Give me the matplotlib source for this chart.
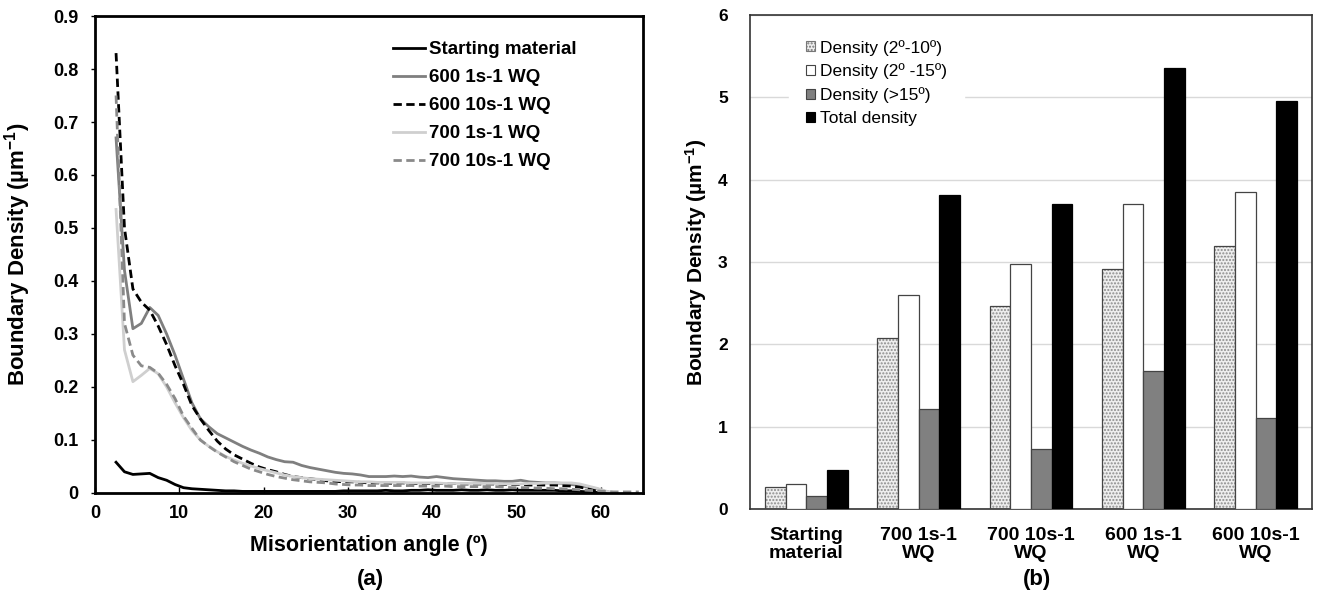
import numpy as np
import matplotlib
matplotlib.use("Agg")
import matplotlib.pyplot as plt
import matplotlib.patches as mpatches

plt.rcParams['font.family'] = ['Liberation Sans', 'DejaVu Sans']
plt.rcParams['mathtext.fontset'] = 'custom'
plt.rcParams['mathtext.rm'] = 'Liberation Sans'
plt.rcParams['mathtext.bf'] = 'Liberation Sans:bold'
plt.rcParams['mathtext.it'] = 'Liberation Sans:italic'

nan = np.nan

# (a) boundary density vs misorientation angle, 1 degree bins
angulos = np.arange(2.5, 65.0, 1.0)

inicial = [0.058, 0.040, 0.035, 0.036, 0.037, 0.029, 0.024, 0.016, 0.010, 0.008,
           0.007, 0.006, 0.005, 0.004, 0.004, 0.003, 0.003, 0.003, 0.003, 0.003,
           0.003, 0.003, 0.003, 0.003, 0.003, 0.003, 0.003, 0.004, 0.004, 0.004,
           0.004, 0.004, 0.005, 0.004, 0.004, 0.005, 0.005, 0.006, 0.005, 0.005,
           0.005, 0.006, 0.005, 0.005, 0.006, 0.005, 0.005, 0.006, 0.005, 0.005,
           0.005, 0.005, 0.005, 0.004, 0.004, 0.003, 0.002, 0.001, 0.0, nan,
           nan, nan, nan]

s600_1 = [0.67, 0.42, 0.31, 0.32, 0.35, 0.335, 0.30, 0.26, 0.215, 0.17,
          0.14, 0.125, 0.112, 0.104, 0.096, 0.088, 0.081, 0.075, 0.068, 0.063,
          0.059, 0.058, 0.052, 0.048, 0.045, 0.042, 0.039, 0.037, 0.036, 0.034,
          0.031, 0.031, 0.031, 0.032, 0.031, 0.032, 0.030, 0.029, 0.031, 0.029,
          0.027, 0.026, 0.025, 0.024, 0.023, 0.023, 0.022, 0.022, 0.024, 0.021,
          0.020, 0.019, 0.019, 0.018, 0.016, 0.014, 0.011, 0.008, 0.003, 0.0,
          nan, nan, nan]

s600_10 = [0.83, 0.50, 0.385, 0.36, 0.345, 0.315, 0.28, 0.24, 0.205, 0.165,
           0.14, 0.118, 0.098, 0.083, 0.072, 0.064, 0.056, 0.049, 0.044, 0.040,
           0.035, 0.031, 0.029, 0.027, 0.025, 0.023, 0.022, 0.021, 0.021, 0.020,
           0.019, 0.019, 0.019, 0.018, 0.019, 0.018, 0.018, 0.018, 0.018, 0.018,
           0.018, 0.017, 0.017, 0.017, 0.017, 0.017, 0.016, 0.016, 0.016, 0.015,
           0.015, 0.015, 0.015, 0.014, 0.013, 0.011, 0.008, 0.005, 0.002, 0.0,
           nan, nan, nan]

s700_1 = [0.535, 0.27, 0.21, 0.222, 0.235, 0.225, 0.20, 0.17, 0.142, 0.118,
          0.10, 0.088, 0.078, 0.069, 0.062, 0.056, 0.051, 0.046, 0.042, 0.038,
          0.034, 0.031, 0.029, 0.027, 0.026, 0.025, 0.024, 0.023, 0.022, 0.021,
          0.021, 0.020, 0.020, 0.020, 0.020, 0.019, 0.019, 0.019, 0.019, 0.018,
          0.018, 0.018, 0.018, 0.018, 0.018, 0.018, 0.017, 0.017, 0.017, 0.018,
          0.018, 0.019, 0.019, 0.019, 0.019, 0.017, 0.013, 0.009, 0.004, 0.0,
          nan, nan, nan]

s700_10 = [0.75, 0.32, 0.26, 0.24, 0.237, 0.226, 0.205, 0.178, 0.145, 0.122,
           0.10, 0.088, 0.077, 0.068, 0.059, 0.052, 0.045, 0.040, 0.035, 0.031,
           0.028, 0.025, 0.023, 0.021, 0.020, 0.019, 0.017, 0.016, 0.015, 0.015,
           0.014, 0.014, 0.014, 0.014, 0.014, 0.014, 0.013, 0.013, 0.013, 0.013,
           0.012, 0.012, 0.012, 0.012, 0.012, 0.012, 0.011, 0.010, 0.010, 0.010,
           0.009, 0.009, 0.008, 0.008, 0.007, 0.006, 0.005, 0.004, 0.003, 0.002,
           0.002, 0.002, 0.002]

nombres_lineas = ['Starting material', '600 1s-1 WQ', '600 10s-1 WQ',
                  '700 1s-1 WQ', '700 10s-1 WQ']
yticks_a = [0, 0.1, 0.2, 0.3, 0.4, 0.5, 0.6, 0.7, 0.8, 0.9]
ytick_labels_a = ['0', '0.1', '0.2', '0.3', '0.4', '0.5', '0.6', '0.7', '0.8', '0.9']

# (b) densities per condition
condiciones = ['Starting\nmaterial', '700 1s-1\nWQ', '700 10s-1\nWQ',
               '600 1s-1\nWQ', '600 10s-1\nWQ']
dens_2_10 = [0.27, 2.08, 2.47, 2.92, 3.19]
dens_2_15 = [0.30, 2.60, 2.97, 3.70, 3.85]
dens_15 = [0.16, 1.22, 0.73, 1.67, 1.10]
dens_total = [0.47, 3.81, 3.70, 5.36, 4.95]
nombres_barras = ['Density (2º-10º)', 'Density (2º -15º)', 'Density (>15º)',
                  'Total density']

ylab = r'Boundary Density (µm$^{\mathbf{-1}}$)'

fig = plt.figure(figsize=(13.19, 6.04), dpi=100)

# ---------- (a) ----------
ax1 = fig.add_axes([0.0720, 0.1838, 0.4155, 0.7897])
estilos = [dict(color='black', ls='-'),
           dict(color='#7f7f7f', ls='-'),
           dict(color='black', ls=(0, (3, 1.6))),
           dict(color='#cfcfcf', ls='-'),
           dict(color='#8a8a8a', ls=(0, (3, 1.6)))]
series = [inicial, s600_1, s600_10, s700_1, s700_10]
for s, nom, est in zip(series, nombres_lineas, estilos):
    ax1.plot(angulos, s, lw=2.0, label=nom, **est)

ax1.set_xlim(0, 65)
ax1.set_ylim(0, 0.9)
ax1.set_xticks([0, 10, 20, 30, 40, 50, 60])
ax1.set_yticks(yticks_a)
ax1.set_yticklabels(ytick_labels_a)
for sp in ax1.spines.values():
    sp.set_linewidth(2.0)
    sp.set_color('black')
ax1.tick_params(axis='x', direction='in', length=4, width=1, pad=9,
                labelsize=13)
ax1.tick_params(axis='y', direction='out', length=3, width=1, pad=9,
                labelsize=13)
for t in ax1.get_xticklabels() + ax1.get_yticklabels():
    t.set_fontweight('bold')
ax1.set_xlabel('Misorientation angle (º)', fontsize=15.5, fontweight='bold')
ax1.xaxis.set_label_coords(0.5, -0.088)
ax1.set_ylabel(ylab, fontsize=16, fontweight='bold')
ax1.yaxis.set_label_coords(-0.113, 0.5)

leg1 = ax1.legend(loc='upper left', bbox_to_anchor=(0.544, 0.947),
                  frameon=False, borderpad=0, borderaxespad=0,
                  handlelength=1.7, handletextpad=0.2, labelspacing=0.58,
                  prop=dict(size=13.5, weight='bold'))

# ---------- (b) ----------
ax2 = fig.add_axes([0.5686, 0.1573, 0.4261, 0.8180])
x = np.arange(len(condiciones))
w = 0.184
ax2.bar(x - 1.5 * w, dens_2_10, w, color='#eeeeee', edgecolor='#8c8c8c',
        hatch='.....', lw=0, zorder=2)
ax2.bar(x - 1.5 * w, dens_2_10, w, fill=False, edgecolor='#444444', lw=0.9,
        zorder=3)
ax2.bar(x - 0.5 * w, dens_2_15, w, color='white', edgecolor='#444444', lw=0.9,
        zorder=3)
ax2.bar(x + 0.5 * w, dens_15, w, color='#808080', edgecolor='#444444', lw=0.9,
        zorder=3)
ax2.bar(x + 1.5 * w, dens_total, w, color='black', edgecolor='black', lw=0.9,
        zorder=3)

ax2.set_xlim(-0.5, 4.5)
ax2.set_ylim(0, 6)
ax2.set_yticks([0, 1, 2, 3, 4, 5, 6])
ax2.set_xticks(x)
ax2.set_xticklabels(condiciones, fontsize=14, fontweight='bold', linespacing=1.05)
ax2.yaxis.grid(True, color='#d9d9d9', lw=1.0, zorder=0)
ax2.set_axisbelow(True)
ax2.tick_params(axis='both', length=0)
ax2.tick_params(axis='y', pad=16, labelsize=12.5)
ax2.tick_params(axis='x', pad=13)
for t in ax2.get_yticklabels():
    t.set_fontweight('bold')
for sp in ax2.spines.values():
    sp.set_linewidth(1.2)
    sp.set_color('#333333')
ax2.set_ylabel(ylab, fontsize=15, fontweight='bold')
ax2.yaxis.set_label_coords(-0.073, 0.5)

manijas = [mpatches.Patch(facecolor='#eeeeee', edgecolor='#777777',
                          hatch='.....', lw=0.8),
           mpatches.Patch(facecolor='white', edgecolor='#444444', lw=0.8),
           mpatches.Patch(facecolor='#808080', edgecolor='#444444', lw=0.8),
           mpatches.Patch(facecolor='black', edgecolor='black', lw=0.8)]
leg2 = ax2.legend(manijas, nombres_barras, loc='upper left',
                  bbox_to_anchor=(0.069, 0.985), borderaxespad=0,
                  borderpad=1.0, handlelength=0.5, handleheight=0.5,
                  handletextpad=0.3, labelspacing=0.45, fontsize=12.5,
                  fancybox=False, framealpha=1, edgecolor='white')

fig.text(370 / 1319, 1 - 580 / 604, '(a)', ha='center', va='center',
         fontsize=16, fontweight='bold')
fig.text(1037 / 1319, 1 - 580 / 604, '(b)', ha='center', va='center',
         fontsize=16, fontweight='bold')

fig.savefig('out.png', dpi=100)
